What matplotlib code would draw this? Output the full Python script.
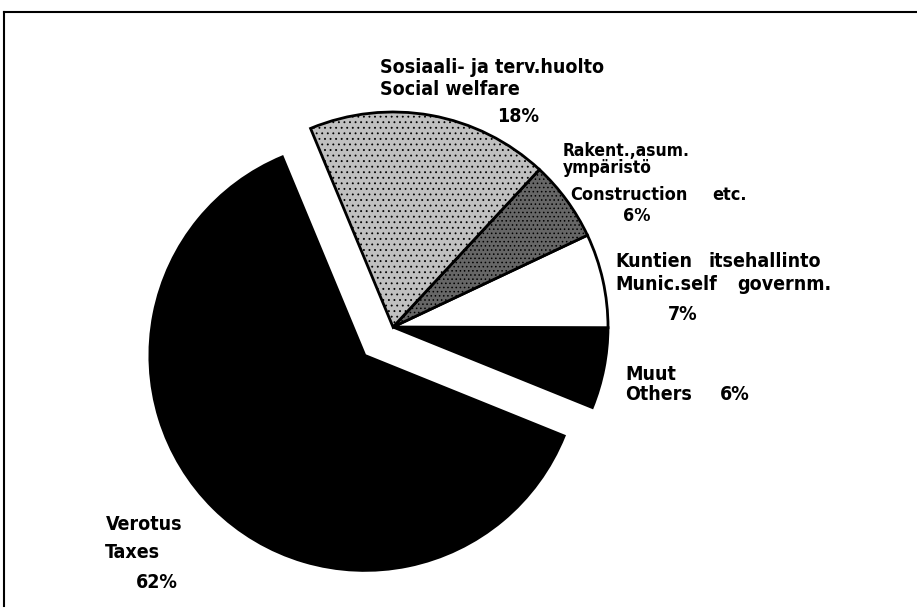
import matplotlib
matplotlib.use("Agg")
from matplotlib import pyplot as plt

# data (percent of total), counter-clockwise from the lower right
categories = ["Others", "Munic. self governm.", "Construction etc.", "Social welfare", "Taxes"]
shares = [6, 7, 6, 18, 62]
colors = ["black", "white", "#666666", "#c0c0c0", "black"]
hatches = [None, None, "....", "...", None]

W, H = 917, 613
plt.rcParams["hatch.linewidth"] = 0.6
fig = plt.figure(figsize=(W / 100, H / 100), dpi=100)
ax = fig.add_axes([0, 0, 1, 1])

# explode is in data units here (1 unit = 1 px), taxes pulled out ~40 px
wedges, _ = ax.pie(shares, colors=colors, explode=[0, 0, 0, 0, 40], startangle=-22,
                   center=(393, H - 327), radius=215,
                   wedgeprops=dict(edgecolor="black", linewidth=2))
for w, h in zip(wedges, hatches):
    if h:
        w.set_hatch(h)

ax.set_xlim(0, W)
ax.set_ylim(0, H)
ax.set_aspect("equal")
ax.axis("off")

# frame (only top and left edge visible in the scan)
ax.plot([4, W], [H - 12, H - 12], color="black", lw=1.5)
ax.plot([4, 4], [H - 12, H - 606], color="black", lw=1.5)

fnt = dict(family=["DejaVu Sans"], fontstretch="condensed", weight="bold",
           fontsize=14, color="black", va="baseline", ha="left")
pct = [f"{v}%" for v in shares]

def put(x, y, s, **kw):
    d = dict(fnt)
    d.update(kw)
    ax.text(x, H - y, s, **d)

put(380, 73, "Sosiaali- ja terv.huolto")
put(380, 95, "Social welfare")
put(497, 122, pct[3])

put(563, 156, "Rakent.,asum.", fontsize=12.5)
put(563, 173, "ympäristö", fontsize=12.5)
put(570, 200, "Construction", fontsize=13)
put(712, 200, "etc.", fontsize=13)
put(623, 221, pct[2], fontsize=13)

put(615, 267, "Kuntien")
put(708, 267, "itsehallinto")
put(615, 290, "Munic.self")
put(737, 290, "governm.")
put(668, 320, pct[1])

put(625, 380, "Muut")
put(625, 400, "Others")
put(720, 400, pct[0])

put(106, 530, "Verotus")
put(105, 558, "Taxes")
put(136, 588, pct[4])

fig.savefig("out.png", dpi=100)
